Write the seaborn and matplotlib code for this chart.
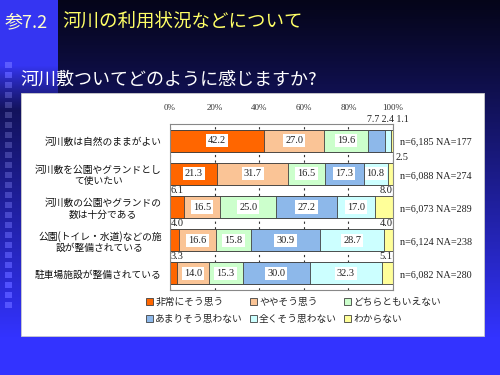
import numpy as np
import pandas as pd
import matplotlib
matplotlib.use("Agg")
import matplotlib.pyplot as plt
import seaborn as sns
from matplotlib.patches import Rectangle, Patch

# ---------------- data ----------------
categories = [
    "河川敷は自然のままがよい",
    "河川敷を公園やグランドとし\nて使いたい",
    "河川敷の公園やグランドの\n数は十分である",
    "公園(トイレ・水道)などの施\n設が整備されている",
    "駐車場施設が整備されている",
]
series_names = ["非常にそう思う", "ややそう思う", "どちらともいえない",
                "あまりそう思わない", "全くそう思わない", "わからない"]
very_much = [42.2, 21.3, 6.1, 4.0, 3.3]
somewhat = [27.0, 31.7, 16.5, 16.6, 14.0]
neutral = [19.6, 16.5, 25.0, 15.8, 15.3]
not_much = [7.7, 17.3, 27.2, 30.9, 30.0]
not_at_all = [2.4, 10.8, 17.0, 28.7, 32.3]
dont_know = [1.1, 2.5, 8.0, 4.0, 5.1]
n_labels = ["n=6,185 NA=177", "n=6,088 NA=274", "n=6,073 NA=289",
            "n=6,124 NA=238", "n=6,082 NA=280"]
tick_values = [0, 20, 40, 60, 80, 100]
tick_labels = ["0%", "20%", "40%", "60%", "80%", "100%"]

colors = ["#FF6600", "#FAC496", "#CCFFCC", "#8DB8EA", "#CCFFFF", "#FFFF99"]

# ---------------- style ----------------
sns.set_style("white")
JP = ["Noto Sans CJK JP", "DejaVu Sans"]
SERIF = ["Liberation Serif", "Noto Sans CJK JP"]
plt.rcParams["font.family"] = JP

fig = plt.figure(figsize=(5, 3.75), dpi=100)

# background (slide)
H, W = 375, 500
yy = np.linspace(0, 1, H)[:, None, None]
top_c = np.array([0.02, 0.02, 0.10])
bot_c = np.array([0.20, 0.20, 1.00])
t = np.clip(yy / 0.90, 0, 1) ** 1.1
img = top_c + (bot_c - top_c) * t
img = np.repeat(img, W, axis=1)
bright = np.array([0.21, 0.21, 0.95])
for r in range(0, 110):
    a = 1.0 if r < 65 else max(0.0, 1 - (r - 65) / 45)
    img[r, :58] = img[r, :58] * (1 - a) + bright * a
for cy in range(62, 305, 10):
    img[cy:cy + 6, 5:12] = np.clip(img[cy:cy + 6, 5:12] + 0.15, 0, 1)

bgax = fig.add_axes([0, 0, 1, 1], zorder=-5)
bgax.imshow(img, aspect="auto", extent=[0, 1, 0, 1])
bgax.add_patch(Rectangle((21 / 500, 1 - 336 / 375), (484 - 21) / 500, (336 - 93) / 375,
                         transform=bgax.transAxes, facecolor="white",
                         edgecolor="#cccccc", lw=0.6))
bgax.set_xlim(0, 1)
bgax.set_ylim(0, 1)
bgax.axis("off")

fig.text(5 / 500, 1 - 22 / 375, "参7.2", color="#FFFFCC", fontsize=13,
         va="center", ha="left", family=JP)
fig.text(62 / 500, 1 - 22 / 375, "河川の利用状況などについて", color="#FFFF66",
         fontsize=13.3, va="center", ha="left", family=JP)
fig.text(20 / 500, 1 - 80 / 375, "河川敷ついてどのように感じますか?", color="white",
         fontsize=13, va="center", ha="left", family=JP)

# ---------------- chart ----------------
ax = fig.add_axes([170 / 500, 1 - 290 / 375, (393 - 170) / 500, (290 - 124) / 375], zorder=1)
ax.set_facecolor("white")

series = [very_much, somewhat, neutral, not_much, not_at_all, dont_know]
vals = np.array(series)
cum = np.cumsum(vals, axis=0)

for i in reversed(range(len(series))):
    df = pd.DataFrame({"cat": categories, "val": cum[i]})
    sns.barplot(data=df, x="val", y="cat", orient="h", order=categories,
                color=colors[i], saturation=1, width=0.66,
                edgecolor="#404040", linewidth=0.6, ax=ax)

ax.set_xlim(0, 100)
ax.set_ylim(4.5, -0.5)
ax.set_xlabel("")
ax.set_ylabel("")
ax.xaxis.tick_top()
ax.set_xticks(tick_values)
ax.set_xticklabels(tick_labels, fontsize=6.5, color="#333333", family=SERIF)
ax.tick_params(axis="x", length=0, pad=9)
ax.tick_params(axis="y", length=0, pad=6, labelsize=7)
for lbl in ax.get_yticklabels():
    lbl.set_multialignment("center")
    lbl.set_family(JP)
    lbl.set_color("#111111")
ax.set_axisbelow(True)
ax.xaxis.grid(True, linestyle=(0, (2, 3)), color="#333333", lw=0.8)
for s in ax.spines.values():
    s.set_color("#888888")
    s.set_linewidth(0.8)

box = dict(facecolor="white", edgecolor="none", pad=1.5)
fs = 7.5
for r in range(len(categories)):
    top_small = []
    for j in range(len(series)):
        v = vals[j, r]
        left = cum[j, r] - v
        txt = f"{v:.1f}"
        if v >= 10:
            ax.text(left + v / 2, r, txt, ha="center", va="center", fontsize=fs,
                    family=SERIF, bbox=box, color="#222222")
        elif r == 0:
            top_small.append(txt)
        elif j == 0:
            ax.text(0.4, r - 0.5, txt, ha="left", va="center", fontsize=fs,
                    family=SERIF, color="#222222")
        elif r == 1:
            ax.text(101.2, r - 0.5, txt, ha="left", va="center", fontsize=fs,
                    family=SERIF, color="#222222", clip_on=False)
        else:
            ax.text(99.8, r - 0.5, txt, ha="right", va="center", fontsize=fs,
                    family=SERIF, color="#222222")
    if top_small:
        ax.text(107, r - 0.64, " ".join(top_small), ha="right", va="center",
                fontsize=7, family=SERIF, color="#222222", clip_on=False)
    ax.text(103.2, r + 0.05, n_labels[r], ha="left", va="center", fontsize=7.3,
            family=SERIF, color="#222222", clip_on=False)

# legend (3 columns, filled row-wise)
handles = [Patch(facecolor=c, edgecolor="#404040", lw=0.6) for c in colors]
order = [0, 3, 1, 4, 2, 5]
fig.legend([handles[k] for k in order], [series_names[k] for k in order],
           loc="upper left", bbox_to_anchor=(146 / 500, 1 - 297 / 375), ncol=3,
           frameon=False, handlelength=0.75, handleheight=0.75,
           handletextpad=0.2, columnspacing=0.7, labelspacing=0.75, borderpad=0,
           borderaxespad=0, prop={"family": JP, "size": 7})

fig.savefig("out.png", dpi=100)
